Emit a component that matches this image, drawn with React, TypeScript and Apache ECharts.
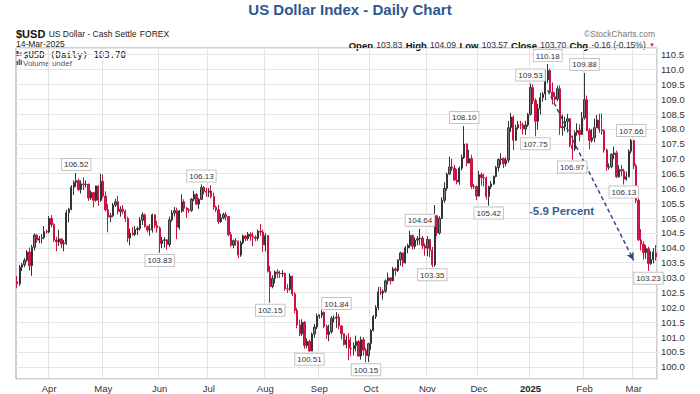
import React, { useEffect, useRef } from "react";
import * as echarts from "echarts";

// [day, open, high, low, close]
type Row = [number, number, number, number, number];

const mar2024: Row[] = [
  [13, 102.87, 103.05, 102.65, 102.79], [14, 102.79, 103.42, 102.72, 103.35], [15, 103.35, 103.49, 103.22, 103.43],
  [18, 103.43, 103.66, 103.35, 103.58], [19, 103.58, 103.92, 103.53, 103.86], [20, 103.86, 104.01, 103.24, 103.40],
  [21, 103.40, 104.10, 103.06, 104.02], [22, 104.02, 104.49, 103.91, 104.43], [25, 104.43, 104.45, 104.17, 104.26],
  [26, 104.26, 104.40, 104.16, 104.32], [27, 104.32, 104.46, 104.15, 104.35], [28, 104.35, 104.73, 104.29, 104.55],
  [29, 104.55, 104.62, 104.48, 104.53],
];
const apr2024: Row[] = [
  [1, 104.53, 105.07, 104.49, 104.99], [2, 104.99, 105.10, 104.69, 104.78], [3, 104.78, 104.83, 104.19, 104.26],
  [4, 104.26, 104.37, 103.89, 104.20], [5, 104.20, 104.61, 104.06, 104.30], [8, 104.30, 104.33, 103.99, 104.13],
  [9, 104.13, 104.26, 103.88, 104.15], [10, 104.15, 105.28, 104.10, 105.18], [11, 105.18, 105.35, 104.85, 105.30],
  [12, 105.30, 106.11, 105.26, 106.04], [15, 106.04, 106.27, 105.78, 106.20], [16, 106.20, 106.52, 106.05, 106.26],
  [17, 106.26, 106.33, 105.91, 105.96], [18, 105.96, 106.27, 105.83, 106.15], [19, 106.15, 106.37, 105.94, 106.13],
  [22, 106.13, 106.26, 106.03, 106.14], [23, 106.14, 106.16, 105.58, 105.68], [24, 105.68, 105.93, 105.61, 105.86],
  [25, 105.86, 105.88, 105.36, 105.60], [26, 105.60, 106.09, 105.55, 106.08], [29, 106.08, 106.11, 105.41, 105.60],
  [30, 105.60, 106.49, 105.55, 106.24],
];
const may2024: Row[] = [
  [1, 106.24, 106.47, 105.68, 105.74], [2, 105.74, 105.90, 105.22, 105.28], [3, 105.28, 105.47, 104.52, 105.04],
  [6, 105.04, 105.18, 104.86, 105.08], [7, 105.08, 105.51, 105.03, 105.44], [8, 105.44, 105.65, 105.38, 105.55],
  [9, 105.55, 105.74, 105.12, 105.22], [10, 105.22, 105.40, 105.05, 105.30], [13, 105.30, 105.44, 105.14, 105.23],
  [14, 105.23, 105.29, 104.87, 104.99], [15, 104.99, 105.05, 104.19, 104.33], [16, 104.33, 104.64, 104.08, 104.50],
  [17, 104.50, 104.69, 104.41, 104.45], [20, 104.45, 104.73, 104.39, 104.62], [21, 104.62, 104.72, 104.43, 104.65],
  [22, 104.65, 105.03, 104.58, 104.93], [23, 104.93, 105.19, 104.77, 105.11], [24, 105.11, 105.15, 104.68, 104.72],
  [27, 104.72, 104.75, 104.52, 104.60], [28, 104.60, 104.80, 104.41, 104.61], [29, 104.61, 105.15, 104.51, 105.11],
  [30, 105.11, 105.13, 104.66, 104.75], [31, 104.75, 104.91, 104.51, 104.67],
];
const jun2024: Row[] = [
  [3, 104.67, 104.72, 103.83, 104.14], [4, 104.14, 104.37, 103.99, 104.25], [5, 104.25, 104.36, 104.01, 104.27],
  [6, 104.27, 104.29, 103.94, 104.11], [7, 104.11, 105.05, 104.02, 104.94], [10, 104.94, 105.27, 104.88, 105.17],
  [11, 105.17, 105.37, 105.05, 105.25], [12, 105.25, 105.35, 104.29, 104.69], [13, 104.69, 105.28, 104.61, 105.24],
  [14, 105.24, 105.80, 105.18, 105.55], [17, 105.55, 105.63, 105.21, 105.33], [18, 105.33, 105.37, 105.01, 105.27],
  [19, 105.27, 105.33, 105.17, 105.26], [20, 105.26, 105.67, 105.21, 105.64], [21, 105.64, 105.91, 105.57, 105.80],
  [24, 105.80, 105.84, 105.44, 105.47], [25, 105.47, 105.67, 105.31, 105.63], [26, 105.63, 106.13, 105.62, 106.03],
  [27, 106.03, 106.08, 105.79, 105.90], [28, 105.90, 106.02, 105.72, 105.87],
];
const jul2024: Row[] = [
  [1, 105.87, 106.01, 105.71, 105.91], [2, 105.91, 106.10, 105.66, 105.73], [3, 105.73, 105.86, 105.28, 105.37],
  [4, 105.37, 105.42, 105.21, 105.28], [5, 105.28, 105.45, 104.80, 104.88], [8, 104.88, 105.15, 104.84, 105.01],
  [9, 105.01, 105.18, 104.96, 105.12], [10, 105.12, 105.20, 104.92, 105.05], [11, 105.05, 105.06, 104.39, 104.44],
  [12, 104.44, 104.53, 104.04, 104.09], [15, 104.09, 104.28, 103.99, 104.24], [16, 104.24, 104.33, 104.07, 104.23],
  [17, 104.23, 104.24, 103.65, 103.76], [18, 103.76, 104.24, 103.70, 104.17], [19, 104.17, 104.45, 104.12, 104.40],
  [22, 104.40, 104.43, 104.22, 104.31], [23, 104.31, 104.53, 104.24, 104.46], [24, 104.46, 104.52, 104.24, 104.39],
  [25, 104.39, 104.52, 104.06, 104.36], [26, 104.36, 104.42, 104.22, 104.32], [29, 104.32, 104.62, 104.24, 104.56],
  [30, 104.56, 104.80, 104.40, 104.53], [31, 104.53, 104.61, 103.86, 104.10],
];
const aug2024: Row[] = [
  [1, 104.10, 104.49, 103.88, 104.41], [2, 104.41, 104.43, 103.17, 103.21], [5, 103.21, 103.39, 102.15, 102.70],
  [6, 102.70, 103.08, 102.64, 102.97], [7, 102.97, 103.24, 102.81, 103.19], [8, 103.19, 103.29, 102.99, 103.14],
  [9, 103.14, 103.23, 102.98, 103.13], [12, 103.13, 103.25, 103.02, 103.14], [13, 103.14, 103.17, 102.56, 102.62],
  [14, 102.62, 102.79, 102.48, 102.61], [15, 102.61, 103.14, 102.56, 103.05], [16, 103.05, 103.06, 102.38, 102.45],
  [19, 102.45, 102.52, 101.80, 101.90], [20, 101.90, 101.98, 101.30, 101.41], [21, 101.41, 101.58, 101.04, 101.11],
  [22, 101.11, 101.60, 101.04, 101.50], [23, 101.50, 101.54, 100.61, 100.72], [26, 100.72, 100.95, 100.62, 100.85],
  [27, 100.85, 100.90, 100.51, 100.53], [28, 100.53, 101.15, 100.53, 101.10], [29, 101.10, 101.44, 100.98, 101.34],
  [30, 101.34, 101.79, 101.27, 101.70],
];
const sep2024: Row[] = [
  [2, 101.70, 101.76, 101.62, 101.74], [3, 101.74, 101.91, 101.64, 101.83], [4, 101.83, 101.86, 101.30, 101.36],
  [5, 101.36, 101.42, 100.94, 101.09], [6, 101.09, 101.42, 100.86, 101.18], [9, 101.18, 101.70, 101.12, 101.63],
  [10, 101.63, 101.73, 101.49, 101.64], [11, 101.64, 101.84, 101.31, 101.67], [12, 101.67, 101.78, 101.26, 101.37],
  [13, 101.37, 101.40, 100.92, 101.11], [16, 101.11, 101.12, 100.71, 100.75], [17, 100.75, 101.06, 100.62, 100.90],
  [18, 100.90, 101.13, 100.22, 100.62], [19, 100.62, 101.00, 100.35, 100.61], [20, 100.61, 100.82, 100.38, 100.72],
  [23, 100.72, 101.05, 100.52, 100.85], [24, 100.85, 100.91, 100.34, 100.36], [25, 100.36, 101.02, 100.24, 100.91],
  [26, 100.91, 101.00, 100.38, 100.56], [27, 100.56, 100.64, 100.15, 100.38], [30, 100.38, 100.81, 100.16, 100.78],
];
const oct2024: Row[] = [
  [1, 100.78, 101.27, 100.57, 101.22], [2, 101.22, 101.74, 101.19, 101.69], [3, 101.69, 102.07, 101.61, 101.99],
  [4, 101.99, 102.69, 101.91, 102.52], [7, 102.52, 102.69, 102.41, 102.48], [8, 102.48, 102.60, 102.26, 102.54],
  [9, 102.54, 102.94, 102.48, 102.89], [10, 102.89, 103.17, 102.77, 102.99], [11, 102.99, 103.01, 102.77, 102.89],
  [14, 102.89, 103.36, 102.88, 103.29], [15, 103.29, 103.35, 103.06, 103.24], [16, 103.24, 103.61, 103.19, 103.59],
  [17, 103.59, 103.87, 103.40, 103.83], [18, 103.83, 103.84, 103.36, 103.49], [21, 103.49, 104.06, 103.48, 104.00],
  [22, 104.00, 104.14, 103.82, 104.08], [23, 104.08, 104.57, 103.99, 104.42], [24, 104.42, 104.44, 103.94, 104.05],
  [25, 104.05, 104.35, 103.96, 104.26], [28, 104.26, 104.40, 104.08, 104.31], [29, 104.31, 104.64, 104.10, 104.33],
  [30, 104.33, 104.40, 103.96, 104.07], [31, 104.07, 104.15, 103.74, 103.99],
];
const nov2024: Row[] = [
  [1, 103.99, 104.39, 103.72, 104.28], [4, 104.28, 104.30, 103.69, 103.92], [5, 103.92, 104.03, 103.35, 103.43],
  [6, 103.43, 105.44, 103.37, 105.08], [7, 105.08, 105.11, 104.39, 104.50], [8, 104.50, 105.06, 104.44, 104.99],
  [11, 104.99, 105.70, 104.97, 105.60], [12, 105.60, 106.21, 105.52, 106.00], [13, 106.00, 106.53, 105.92, 106.48],
  [14, 106.48, 107.07, 106.46, 106.72], [15, 106.72, 107.00, 106.58, 106.68], [18, 106.68, 106.79, 106.25, 106.28],
  [19, 106.28, 106.65, 106.14, 106.21], [20, 106.21, 106.73, 106.12, 106.68], [21, 106.68, 107.14, 106.60, 107.04],
  [22, 107.04, 108.10, 106.99, 107.49], [25, 107.49, 107.52, 106.74, 106.85], [26, 106.85, 107.30, 106.84, 107.00],
  [27, 107.00, 107.13, 105.98, 106.07], [28, 106.07, 106.15, 105.98, 106.06], [29, 106.06, 106.10, 105.61, 105.74],
];
const dec2024: Row[] = [
  [2, 105.74, 106.59, 105.73, 106.46], [3, 106.46, 106.53, 106.09, 106.36], [4, 106.36, 106.49, 106.06, 106.35],
  [5, 106.35, 106.40, 105.62, 105.73], [6, 105.73, 106.09, 105.42, 106.06], [9, 106.06, 106.25, 105.98, 106.15],
  [10, 106.15, 106.43, 106.12, 106.40], [11, 106.40, 106.76, 106.37, 106.70], [12, 106.70, 107.01, 106.57, 106.97],
  [13, 106.97, 107.18, 106.78, 107.00], [16, 107.00, 107.04, 106.68, 106.83], [17, 106.83, 107.04, 106.74, 106.95],
  [18, 106.95, 108.27, 106.86, 108.04], [19, 108.04, 108.54, 107.90, 108.40], [20, 108.40, 108.45, 107.28, 107.62],
  [23, 107.62, 108.14, 107.59, 108.04], [24, 108.04, 108.27, 107.98, 108.14], [26, 108.14, 108.27, 107.99, 108.13],
  [27, 108.13, 108.22, 107.82, 108.00], [30, 108.00, 108.27, 107.80, 108.13], [31, 108.13, 108.53, 108.07, 108.49],
];
const jan2025: Row[] = [
  [2, 108.49, 109.53, 108.45, 109.39], [3, 109.39, 109.49, 108.84, 108.95], [6, 108.95, 109.03, 107.75, 108.26],
  [7, 108.26, 108.84, 107.98, 108.68], [8, 108.68, 109.21, 108.48, 109.05], [9, 109.05, 109.25, 108.92, 109.17],
  [10, 109.17, 109.97, 108.97, 109.65], [13, 109.65, 110.18, 109.54, 109.96], [14, 109.96, 110.01, 109.16, 109.24],
  [15, 109.24, 109.56, 108.82, 109.08], [16, 109.08, 109.23, 108.80, 109.00], [17, 109.00, 109.45, 108.93, 109.35],
  [20, 109.35, 109.46, 107.80, 108.04], [21, 108.04, 108.48, 107.77, 108.07], [22, 108.07, 108.41, 107.92, 108.25],
  [23, 108.25, 108.50, 107.88, 108.34], [24, 108.34, 108.37, 107.38, 107.45], [27, 107.45, 107.78, 106.97, 107.33],
  [28, 107.33, 107.95, 107.25, 107.87], [29, 107.87, 108.19, 107.77, 107.95], [30, 107.95, 108.16, 107.58, 107.81],
  [31, 107.81, 108.57, 107.80, 108.37],
];
const feb2025: Row[] = [
  [3, 108.37, 109.88, 108.31, 108.98], [4, 108.98, 109.12, 107.92, 107.95], [5, 107.95, 108.02, 107.32, 107.61],
  [6, 107.61, 107.99, 107.54, 107.70], [7, 107.70, 108.35, 107.55, 108.04], [10, 108.04, 108.47, 108.03, 108.30],
  [11, 108.30, 108.51, 107.87, 107.97], [12, 107.97, 108.52, 107.80, 107.94], [13, 107.94, 107.99, 107.20, 107.29],
  [14, 107.29, 107.34, 106.59, 106.71], [17, 106.71, 106.84, 106.63, 106.73], [18, 106.73, 107.18, 106.68, 107.14],
  [19, 107.14, 107.40, 106.98, 107.19], [20, 107.19, 107.27, 106.35, 106.39], [21, 106.39, 106.78, 106.36, 106.63],
  [24, 106.63, 106.79, 106.40, 106.58], [25, 106.58, 106.66, 106.13, 106.31], [26, 106.31, 106.56, 106.26, 106.39],
  [27, 106.39, 107.31, 106.37, 107.25], [28, 107.25, 107.66, 107.17, 107.61],
];
const mar2025: Row[] = [
  [3, 107.61, 107.63, 106.65, 106.76], [4, 106.76, 106.83, 105.51, 105.60], [5, 105.60, 105.72, 104.23, 104.27],
  [6, 104.27, 104.63, 103.91, 104.12], [7, 104.12, 104.23, 103.60, 103.84], [10, 103.84, 104.09, 103.63, 103.97],
  [11, 103.97, 104.04, 103.23, 103.47], [12, 103.47, 103.89, 103.43, 103.61], [13, 103.61, 103.99, 103.48, 103.86],
  [14, 103.83, 104.09, 103.57, 103.70],
];

const months: [string, Row[]][] = [
  ["2024-03", mar2024], ["2024-04", apr2024], ["2024-05", may2024], ["2024-06", jun2024],
  ["2024-07", jul2024], ["2024-08", aug2024], ["2024-09", sep2024], ["2024-10", oct2024],
  ["2024-11", nov2024], ["2024-12", dec2024], ["2025-01", jan2025], ["2025-02", feb2025],
  ["2025-03", mar2025],
];

const monthNames = ["Jan", "Feb", "Mar", "Apr", "May", "Jun", "Jul", "Aug", "Sep", "Oct", "Nov", "Dec"];

// annotated highs / lows: [date, value, side]
const notes: [string, number, "above" | "below"][] = [
  ["2024-04-16", 106.52, "above"], ["2024-06-03", 103.83, "below"], ["2024-06-26", 106.13, "above"],
  ["2024-08-05", 102.15, "below"], ["2024-08-27", 100.51, "below"], ["2024-09-11", 101.84, "above"],
  ["2024-09-27", 100.15, "below"], ["2024-10-29", 104.64, "above"], ["2024-11-05", 103.35, "below"],
  ["2024-11-22", 108.10, "above"], ["2024-12-06", 105.42, "below"], ["2025-01-02", 109.53, "above"],
  ["2025-01-06", 107.75, "below"], ["2025-01-13", 110.18, "above"], ["2025-01-27", 106.97, "below"],
  ["2025-02-03", 109.88, "above"], ["2025-02-25", 106.13, "below"], ["2025-02-28", 107.66, "above"],
  ["2025-03-11", 103.23, "below"],
];

const arrowFrom: [string, number] = ["2025-01-13", 109.3];
const arrowTo: [string, number] = ["2025-03-03", 103.58];

const dates: string[] = [];
const candles: number[][] = [];
months.forEach(([ym, rows]) => {
  rows.forEach(([d, o, h, l, c]) => {
    dates.push(`${ym}-${String(d).padStart(2, "0")}`);
    candles.push([o, c, l, h]);
  });
});

const isMonthStart = (i: number) => i > 0 && dates[i].slice(0, 7) !== dates[i - 1].slice(0, 7);

const FF = '"Liberation Sans", Arial, sans-serif';

export default function App() {
  const ref = useRef<HTMLDivElement>(null);
  useEffect(() => {
    const chart = echarts.init(ref.current!, null, { renderer: "svg" });
    chart.setOption({
      animation: false,
      backgroundColor: "#fff",
      grid: { left: 16, right: 43, top: 48, bottom: 15, show: true, borderColor: "#a0a0a0", borderWidth: 1 },
      xAxis: {
        type: "category",
        data: dates,
        boundaryGap: true,
        axisLine: { show: false },
        axisTick: { show: false },
        axisLabel: {
          interval: (i: number) => isMonthStart(i),
          formatter: (v: string) => {
            const m = Number(v.slice(5, 7));
            return m === 1 ? `{y|${v.slice(0, 4)}}` : monthNames[m - 1];
          },
          rich: { y: { fontWeight: "bold", fontSize: 9.5, fontFamily: FF, color: "#222" } },
          fontSize: 9.5,
          fontFamily: FF,
          color: "#333",
          margin: 4,
        },
        splitLine: { show: true, interval: (i: number) => isMonthStart(i), lineStyle: { color: "#e2e2e2", width: 1 } },
      },
      yAxis: {
        type: "value",
        position: "right",
        min: 99.59,
        max: 110.72,
        splitNumber: 22,
        minInterval: 0.5,
        maxInterval: 0.5,
        scale: true,
        axisLine: { show: false },
        axisTick: { show: false },
        axisLabel: {
          formatter: (v: number) => v.toFixed(1),
          showMinLabel: false,
          showMaxLabel: false,
          fontSize: 9.5,
          fontFamily: FF,
          color: "#333",
          margin: 4,
        },
        splitLine: { show: true, lineStyle: { color: "#e6e6e6", width: 1 } },
      },
      series: [
        {
          type: "candlestick",
          data: candles,
          barWidth: 1.8,
          itemStyle: {
            color: "#7c7c7c",
            color0: "#d3174b",
            borderColor: "#333333",
            borderColor0: "#c8123f",
            borderWidth: 1,
          },
          markPoint: {
            symbol: "rect",
            symbolSize: 0,
            silent: true,
            label: {
              show: true,
              formatter: (p: any) => Number(p.value).toFixed(2),
              fontSize: 8,
              fontFamily: FF,
              color: "#333",
              backgroundColor: "#fff",
              borderColor: "#c4c4c4",
              borderWidth: 1,
              padding: [2, 2, 1, 2],
            },
            data: notes.map(([d, v, side]) => ({
              coord: [d, v],
              value: v,
              label: { position: side === "above" ? "top" : "bottom", distance: side === "above" ? 3 : 2 },
            })),
          },
          markLine: {
            silent: true,
            symbol: ["none", "arrow"],
            symbolSize: [6, 8],
            label: { show: false },
            lineStyle: { color: "#2c4a7c", type: [4, 3], width: 1.5 },
            data: [[{ coord: arrowFrom }, { coord: arrowTo }]],
          },
        },
      ],
      graphic: [
        {
          type: "text",
          x: 350,
          y: 2,
          style: {
            text: "US Dollar Index - Daily Chart",
            fontSize: 15,
            fontWeight: "bold",
            fontFamily: FF,
            fill: "#2d5795",
            align: "center",
          },
        },
        {
          type: "text",
          x: 16,
          y: 28,
          style: {
            text: "{b|$USD} {n|US Dollar - Cash Settle} {n|FOREX}",
            rich: {
              b: { fontSize: 11, fontWeight: "bold", fontFamily: FF, fill: "#111" },
              n: { fontSize: 8.5, fontFamily: FF, fill: "#222" },
            },
          },
        },
        {
          type: "text",
          x: 16,
          y: 39,
          style: { text: "14-Mar-2025", fontSize: 8.5, fontFamily: FF, fill: "#222" },
        },
        {
          type: "text",
          x: 655,
          y: 29,
          style: { text: "\u00A9StockCharts.com", fontSize: 8.5, fontFamily: FF, fill: "#777", align: "right" },
        },
        {
          type: "text",
          x: 655,
          y: 39,
          style: {
            text: "{b|Open} {n|103.83} {b|High} {n|104.09} {b|Low} {n|103.57} {b|Close} {n|103.70} {b|Chg} {n|-0.16 (-0.15%)} {r|\u25BC}",
            align: "right",
            rich: {
              b: { fontSize: 9.5, fontWeight: "bold", fontFamily: FF, fill: "#111" },
              n: { fontSize: 8.5, fontFamily: FF, fill: "#333" },
              r: { fontSize: 6, fontFamily: FF, fill: "#d0103a" },
            },
          },
        },
        { type: "rect", shape: { x: 16.5, y: 51, width: 2, height: 5 }, style: { fill: "#444" } },
        { type: "rect", shape: { x: 19.5, y: 52, width: 2, height: 4 }, style: { fill: "#888" } },
        {
          type: "text",
          x: 23,
          y: 50,
          style: { text: "$USD (Daily) 103.70", fontSize: 9, fontFamily: '"DejaVu Sans Mono", monospace', fill: "#111" },
        },
        { type: "rect", shape: { x: 16.5, y: 61, width: 1.5, height: 4 }, style: { fill: "#666" } },
        { type: "rect", shape: { x: 18.5, y: 59, width: 1.5, height: 6 }, style: { fill: "#666" } },
        { type: "rect", shape: { x: 20.5, y: 60, width: 1.5, height: 5 }, style: { fill: "#666" } },
        {
          type: "text",
          x: 23,
          y: 59,
          style: { text: "Volume undef", fontSize: 8, fontFamily: FF, fill: "#555" },
        },
        {
          type: "text",
          x: 529,
          y: 205,
          style: { text: "-5.9 Percent", fontSize: 11.5, fontWeight: "bold", fontFamily: FF, fill: "#3a5d92" },
        },
      ],
    });
    return () => chart.dispose();
  }, []);
  return (
    <div
      ref={ref}
      style={{ position: "fixed", left: 0, top: 0, width: 700, height: 394, background: "#fff" }}
    />
  );
}
